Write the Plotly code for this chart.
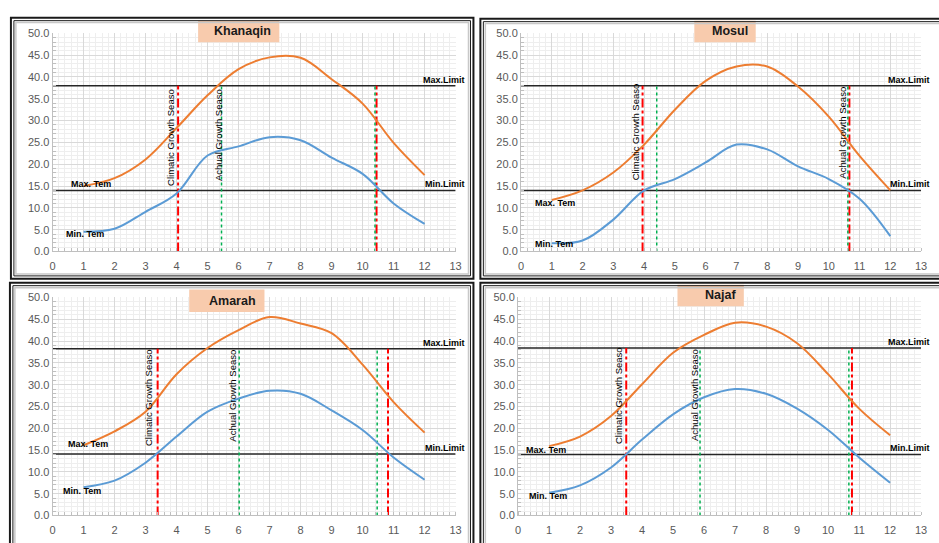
import plotly.graph_objects as go

months = [1, 2, 3, 4, 5, 6, 7, 8, 9, 10, 11, 12]

stations = ["Khanaqin", "Mosul", "Amarah", "Najaf"]

khanaqin_max = [15.0, 16.8, 21.1, 28.3, 35.8, 41.8, 44.5, 44.4, 39.5, 33.9, 24.9, 17.5]
khanaqin_min = [4.5, 5.2, 9.1, 13.3, 22.0, 24.1, 26.2, 25.5, 21.5, 17.8, 11.0, 6.3]
mosul_max = [11.8, 14.0, 18.1, 24.5, 32.5, 39.1, 42.4, 42.4, 37.8, 30.9, 21.9, 14.0]
mosul_min = [1.9, 2.5, 7.3, 14.0, 16.6, 20.4, 24.5, 23.4, 19.5, 16.6, 12.1, 3.5]
amarah_max = [16.1, 19.3, 23.8, 32.4, 38.4, 42.5, 45.5, 44.0, 41.8, 34.6, 26.0, 19.0]
amarah_min = [6.5, 8.0, 12.1, 18.1, 23.8, 26.8, 28.6, 27.9, 24.1, 19.6, 13.3, 8.2]
najaf_max = [15.9, 18.1, 22.8, 30.1, 37.3, 41.4, 44.2, 43.3, 39.5, 32.4, 24.5, 18.4]
najaf_min = [5.2, 6.9, 11.0, 17.4, 23.2, 27.1, 29.0, 27.9, 24.5, 19.6, 13.3, 7.5]

max_limit = [38.0, 38.0, 38.2, 38.4]
min_limit = [14.0, 14.0, 14.1, 14.0]

# growth season boundaries (month position)
climatic_start = [4.05, 3.95, 3.39, 3.49]
climatic_end = [10.45, 10.67, 10.82, 10.77]
actual_start = [5.45, 4.41, 6.02, 5.87]
actual_end = [10.40, 10.62, 10.47, 10.67]

max_series = [khanaqin_max, mosul_max, amarah_max, najaf_max]
min_series = [khanaqin_min, mosul_min, amarah_min, najaf_min]

# label positions (data coords)
clim_label_pos = [(3.78, 26.2), (3.75, 27.4), (3.09, 27.0), (3.24, 27.5)]
act_label_pos = [(5.34, 26.7), (10.44, 27.3), (5.81, 27.4), (5.69, 27.7)]
maxtem_pos = [(1.25, 15.5), (1.11, 11.0), (1.14, 16.3), (0.91, 15.1)]
mintem_pos = [(1.05, 3.9), (1.07, 1.6), (0.95, 5.5), (0.98, 4.5)]

W, H = 939, 543


def xp(px):
    return px / W


def yp(py):
    return 1 - py / H


plot_px = [
    (50, 457, 28, 251),
    (523, 927, 28, 251),
    (50, 457, 298, 521),
    (520, 927, 298, 521),
]
frames_px = [
    (8, 475, 12, 279),
    (482, 952, 13, 279),
    (7, 475, 283, 560),
    (482, 952, 283, 560),
]
title_box_px = [
    (197, 279, 15, 37, 242),
    (698, 760, 15, 37, 734),
    (188, 264, 290, 313, 232),
    (681, 748, 285, 307, 724),
]

ORANGE = "#ED7D31"
BLUE = "#5B9BD5"
FONT = "Liberation Sans"

fig = go.Figure()
layout = dict(
    width=W, height=H, margin=dict(l=0, r=0, t=0, b=0),
    paper_bgcolor="white", plot_bgcolor="white", showlegend=False,
    font=dict(family=FONT),
)
shapes = []
annotations = []

for i in range(4):
    n = "" if i == 0 else str(i + 1)
    xa, ya = "x" + n, "y" + n
    x0, x1, y0, y1 = plot_px[i]
    layout["xaxis" + n] = dict(
        domain=[xp(x0), xp(x1)], range=[0, 13], dtick=1, anchor=ya,
        showgrid=True, gridcolor="#d9d9d9", gridwidth=1,
        showline=True, linecolor="#bfbfbf", zeroline=False,
        tickfont=dict(size=11, color="#595959", family=FONT),
        ticks="outside", ticklen=4, tickcolor="rgba(0,0,0,0)", fixedrange=True,
        minor=dict(dtick=0.2, showgrid=True, gridcolor="#eeeeee",
                   ticks="inside", ticklen=3, tickcolor="#bfbfbf"),
    )
    layout["yaxis" + n] = dict(
        domain=[yp(y1), yp(y0)], range=[0, 50], dtick=5, anchor=xa,
        tickformat=".1f",
        showgrid=True, gridcolor="#d9d9d9", gridwidth=1,
        showline=True, linecolor="#bfbfbf", zeroline=False,
        tickfont=dict(size=11, color="#595959", family=FONT),
        ticks="", fixedrange=True,
        minor=dict(dtick=1, showgrid=True, gridcolor="#eeeeee",
                   ticks="inside", ticklen=3, tickcolor="#bfbfbf"),
    )

    # limits
    fig.add_trace(go.Scatter(x=[0, 13], y=[max_limit[i]] * 2, mode="lines",
                             line=dict(color="#262626", width=1.5), xaxis=xa, yaxis=ya))
    fig.add_trace(go.Scatter(x=[0, 13], y=[min_limit[i]] * 2, mode="lines",
                             line=dict(color="#262626", width=1.5), xaxis=xa, yaxis=ya))
    # growth season lines
    for xv in (climatic_start[i], climatic_end[i]):
        fig.add_trace(go.Scatter(x=[xv, xv], y=[0, max_limit[i]], mode="lines",
                                 line=dict(color="#FF0000", width=2, dash="dashdot"),
                                 xaxis=xa, yaxis=ya))
    for xv in (actual_start[i], actual_end[i]):
        fig.add_trace(go.Scatter(x=[xv, xv], y=[0, max_limit[i]], mode="lines",
                                 line=dict(color="#00B050", width=1.5, dash="dot"),
                                 xaxis=xa, yaxis=ya))
    # temperature curves
    fig.add_trace(go.Scatter(x=months, y=max_series[i], mode="lines",
                             line=dict(color=ORANGE, width=2, shape="spline", smoothing=1),
                             xaxis=xa, yaxis=ya))
    fig.add_trace(go.Scatter(x=months, y=min_series[i], mode="lines",
                             line=dict(color=BLUE, width=2, shape="spline", smoothing=1),
                             xaxis=xa, yaxis=ya))

    # labels
    lab_font = dict(size=9.5, color="black", family=FONT)
    annotations.append(dict(x=clim_label_pos[i][0], y=clim_label_pos[i][1], xref=xa, yref=ya,
                            text="Climatic Growth Seaso", showarrow=False, textangle=-90,
                            xanchor="center", yanchor="middle", font=lab_font))
    annotations.append(dict(x=act_label_pos[i][0], y=act_label_pos[i][1], xref=xa, yref=ya,
                            text="Achual Growth Seaso", showarrow=False, textangle=-90,
                            xanchor="center", yanchor="middle", font=lab_font))
    bold_font = dict(size=9, color="black", family=FONT)
    annotations.append(dict(x=maxtem_pos[i][0], y=maxtem_pos[i][1], xref=xa, yref=ya,
                            xanchor="center", yanchor="middle",
                            text="<b>Max. Tem</b>", showarrow=False, font=bold_font))
    annotations.append(dict(x=mintem_pos[i][0], y=mintem_pos[i][1], xref=xa, yref=ya,
                            xanchor="center", yanchor="middle",
                            text="<b>Min. Tem</b>", showarrow=False, font=bold_font))
    annotations.append(dict(x=13, y=max_limit[i], xref=xa, yref=ya, xanchor="right",
                            yanchor="bottom", yshift=-1, xshift=11,
                            text="<b>Max.Limit</b>", showarrow=False, font=bold_font))
    annotations.append(dict(x=13, y=min_limit[i], xref=xa, yref=ya, xanchor="right",
                            yanchor="bottom", yshift=-1, xshift=11,
                            text="<b>Min.Limit</b>", showarrow=False, font=bold_font))

    # title box
    bx0, bx1, by0, by1, tcx = title_box_px[i]
    shapes.append(dict(type="rect", xref="paper", yref="paper",
                       x0=xp(bx0), x1=xp(bx1), y0=yp(by1), y1=yp(by0),
                       fillcolor="#F8CBAD", line=dict(width=0), layer="above"))
    annotations.append(dict(x=xp(tcx), y=yp((by0 + by1) / 2), xref="paper", yref="paper",
                            xanchor="center", yanchor="middle",
                            text="<b>" + stations[i] + "</b>", showarrow=False,
                            font=dict(size=12.5, color="#1a1a1a", family=FONT)))

    # frames
    fx0, fx1, fy0, fy1 = frames_px[i]
    shapes.append(dict(type="rect", xref="paper", yref="paper",
                       x0=xp(fx0), x1=xp(fx1), y0=yp(fy1), y1=yp(fy0),
                       line=dict(color="#1a1a1a", width=2)))
    shapes.append(dict(type="rect", xref="paper", yref="paper",
                       x0=xp(fx0 + 3), x1=xp(fx1 - 3), y0=yp(fy1 - 3), y1=yp(fy0 + 3),
                       line=dict(color="#1a1a1a", width=1)))
    shapes.append(dict(type="rect", xref="paper", yref="paper",
                       x0=xp(fx0 + 5), x1=xp(fx1 - 5), y0=yp(fy1 - 5), y1=yp(fy0 + 5),
                       line=dict(color="#c8c8c8", width=1.5)))

layout["shapes"] = shapes
layout["annotations"] = annotations
fig.update_layout(**layout)
fig.write_html("out.html")
